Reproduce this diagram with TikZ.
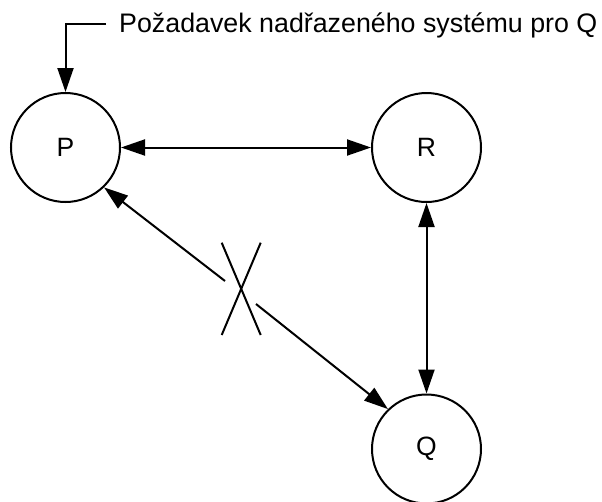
\documentclass[tikz,border=0pt]{standalone}
\usepackage{fontspec}
\setmainfont{Liberation Sans}
\usetikzlibrary{arrows.meta}
\begin{document}
\begin{tikzpicture}[x=1pt,y=-1pt,
  state/.style={circle,draw,line width=2pt,minimum size=109pt,inner sep=0pt,
    font=\fontsize{26.5}{30}\selectfont},
  tip/.style={-{Triangle[length=24pt,width=16pt]}},
  conn/.style={line width=2pt,tip},
  twoway/.style={line width=2pt,{Triangle[length=24pt,width=16pt]}-{Triangle[length=24pt,width=16pt]}},
  plain/.style={line width=2pt},
  lbl/.style={font=\fontsize{26.8}{30}\selectfont,inner sep=0pt}]
\useasboundingbox (0,0) rectangle (602,501);
\clip (0,0) rectangle (602,501);

% states
\node[state] (P) at (65.5,147.5) {P};
\node[state] (R) at (426.5,147.5) {R};
\node[state] (Q) at (426.5,449) {Q};

% request from the superior system
\node[lbl,anchor=base west] (T) at (119,32) {Požadavek nadřazeného systému pro Q};
\coordinate (Tl) at (106,24);
\draw[conn] (Tl) -| (P.north);

% links between states
\draw[twoway] (P.east) -- (R.west);
\draw[twoway] (R.south) -- (Q.north);

% interrupted link Q -> P
\coordinate (ga) at (225,281);
\coordinate (gb) at (256,304);
\draw[conn] (ga) -- (P.-46);
\draw[conn] (gb) -- (Q.134);

% cross mark
\coordinate (x1) at (221.7,242.7);
\coordinate (x2) at (260.7,335);
\coordinate (x3) at (260.7,242.7);
\coordinate (x4) at (221.7,335);
\draw[plain] (x1) -- (x2);
\draw[plain] (x3) -- (x4);
\end{tikzpicture}
\end{document}
